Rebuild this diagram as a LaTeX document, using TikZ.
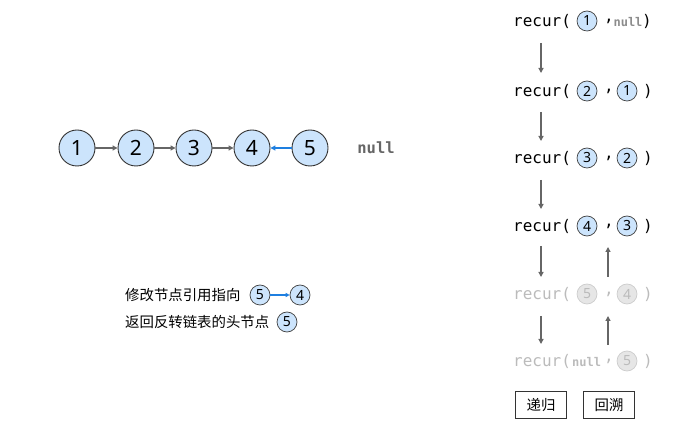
\documentclass[tikz,border=0pt]{standalone}
\usepackage{fontspec}
\setmainfont{Noto Sans}
\setmonofont{DejaVu Sans Mono}
\newfontfamily\cjk{Noto Sans CJK SC}
\usetikzlibrary{arrows.meta}
\definecolor{nodefill}{HTML}{CCE4FC}
\definecolor{edgecol}{HTML}{666666}
\definecolor{bluearr}{HTML}{1E7FE0}
\definecolor{fadetext}{HTML}{BBBBBB}
\definecolor{fadefill}{HTML}{E6E6E6}
\definecolor{fadeline}{HTML}{CCCCCC}
\tikzset{
  bignode/.style={circle,draw=black!80,line width=0.9pt,fill=nodefill,minimum size=36pt,inner sep=0pt,font=\fontsize{21}{21}\selectfont},
  smallnode/.style={circle,draw=black!75,line width=0.7pt,fill=nodefill,minimum size=20pt,inner sep=0pt,font=\fontsize{14}{14}\selectfont},
  fadenode/.style={circle,draw=fadeline,line width=0.7pt,fill=fadefill,minimum size=20pt,inner sep=0pt,text=fadetext,font=\fontsize{14}{14}\selectfont},
  link/.style={draw=edgecol,line width=1.1pt,-{Triangle[length=5pt,width=5pt]}},
  bluelink/.style={draw=bluearr,line width=1.1pt,-{Triangle[length=5pt,width=5pt]}},
  flow/.style={draw=edgecol,line width=1.2pt,-{Triangle[length=5pt,width=5pt]}},
  code/.style={inner sep=0pt,anchor=west,font=\ttfamily\fontsize{16}{16}\selectfont},
  fadecode/.style={code,text=fadetext},
  nullt/.style={inner sep=0pt,font=\ttfamily\bfseries\fontsize{12}{12}\selectfont,text=black!45},
  lbl/.style={inner sep=0pt,anchor=west,font=\cjk\fontsize{14.4}{14.4}\selectfont},
  tagbox/.style={draw=black!80,line width=0.7pt,minimum width=51pt,minimum height=27pt,inner sep=0pt,font=\cjk\fontsize{14.4}{14.4}\selectfont}
}
\begin{document}
\begin{tikzpicture}[x=1pt,y=-1pt]
\useasboundingbox (0,0) rectangle (693,427);
% main list
\node[bignode] (n1) at (77,148) {1};
\node[bignode] (n2) at (136,148) {2};
\node[bignode] (n3) at (194,148) {3};
\node[bignode] (n4) at (252,148) {4};
\node[bignode] (n5) at (310,148) {5};
\node[inner sep=0pt,font=\ttfamily\bfseries\fontsize{15.5}{16}\selectfont,text=black!60] (nl) at (376,148) {null};
\draw[link] (n1) -- (n2);
\draw[link] (n2) -- (n3);
\draw[link] (n3) -- (n4);
\draw[bluelink] (n5) -- (n4);
% recursion column
\node[code] (r1) at (513,21) {recur(};
\node[smallnode] (r1a) at (587,21) {1};
\node[code] (r1c) at (604,21) {,};
\node[nullt] (r1b) at (628,22) {null};
\node[code] (r1p) at (642,21) {)};

\node[code] (r2) at (513,91) {recur(};
\node[smallnode] (r2a) at (587,91) {2};
\node[code] (r2c) at (604,91) {,};
\node[smallnode] (r2b) at (627,91) {1};
\node[code] (r2p) at (643,91) {)};

\node[code] (r3) at (513,158) {recur(};
\node[smallnode] (r3a) at (587,158) {3};
\node[code] (r3c) at (604,158) {,};
\node[smallnode] (r3b) at (627,158) {2};
\node[code] (r3p) at (643,158) {)};

\node[code] (r4) at (513,226) {recur(};
\node[smallnode] (r4a) at (587,226) {4};
\node[code] (r4c) at (604,226) {,};
\node[smallnode] (r4b) at (627,226) {3};
\node[code] (r4p) at (643,226) {)};

\node[fadecode] (r5) at (513,294) {recur(};
\node[fadenode] (r5a) at (587,294) {5};
\node[fadecode] (r5c) at (604,294) {,};
\node[fadenode] (r5b) at (627,294) {4};
\node[fadecode] (r5p) at (643,294) {)};

\node[fadecode] (r6) at (513,361) {recur(};
\node[nullt,anchor=west,text=fadetext] (r6n) at (572,362) {null};
\node[fadecode] (r6c) at (604,361) {,};
\node[fadenode] (r6b) at (627,361) {5};
\node[fadecode] (r6p) at (643,361) {)};

% down arrows
\coordinate (d1s) at (541,43); \coordinate (d1e) at (541,73);
\coordinate (d2s) at (541,112); \coordinate (d2e) at (541,141);
\coordinate (d3s) at (541,180); \coordinate (d3e) at (541,209);
\coordinate (d4s) at (541,246); \coordinate (d4e) at (541,277);
\coordinate (d5s) at (541,316); \coordinate (d5e) at (541,344);
\draw[flow] (d1s) -- (d1e);
\draw[flow] (d2s) -- (d2e);
\draw[flow] (d3s) -- (d3e);
\draw[flow] (d4s) -- (d4e);
\draw[flow] (d5s) -- (d5e);
% up arrows
\coordinate (u1s) at (608,277); \coordinate (u1e) at (608,247);
\coordinate (u2s) at (608,345); \coordinate (u2e) at (608,316);
\draw[flow] (u1s) -- (u1e);
\draw[flow] (u2s) -- (u2e);

% tags
\node[tagbox] (t1) at (541,405) {递归};
\node[tagbox] (t2) at (609,405) {回溯};

% legend
\node[lbl] (l1) at (125,295) {修改节点引用指向};
\node[smallnode] (l1a) at (260,295) {5};
\node[smallnode] (l1b) at (300,295) {4};
\draw[draw=bluearr,line width=1.1pt,-{Triangle[length=4pt,width=4pt]}] (l1a) -- (l1b);
\node[lbl] (l2) at (125,322) {返回反转链表的头节点};
\node[smallnode] (l2a) at (287,322) {5};
\end{tikzpicture}
\end{document}
